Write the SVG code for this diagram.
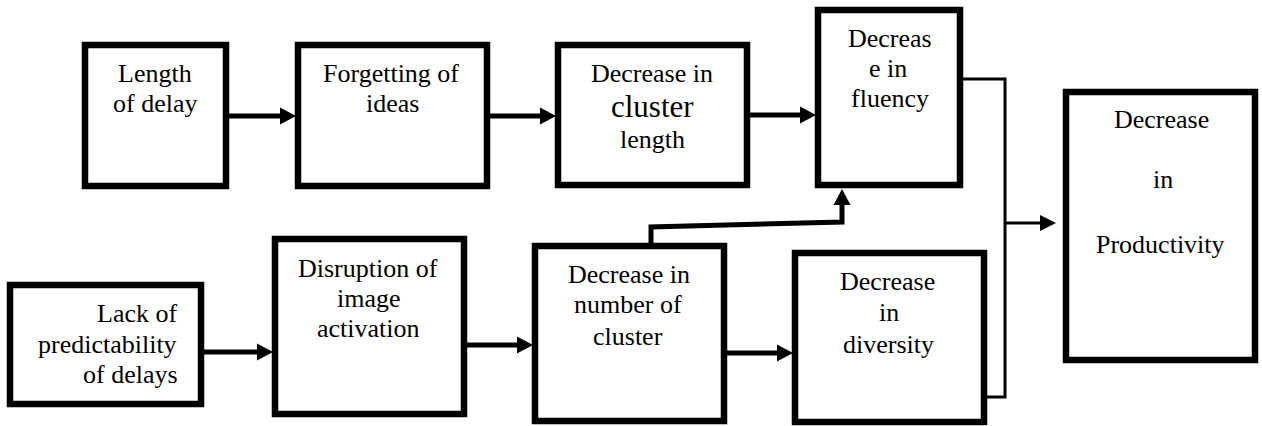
<svg xmlns="http://www.w3.org/2000/svg" width="1262" height="426" viewBox="0 0 1262 426">
  <style>
    .box { fill: #ffffff; stroke: #000000; stroke-width: 6.5; }
    .thick { fill: none; stroke: #000000; stroke-width: 5; }
    .thin { fill: none; stroke: #000000; stroke-width: 3; }
    .head { fill: #000000; }
    .t { font-family: "Liberation Serif", serif; font-size: 26px; fill: #000000; }
  </style>

  <!-- connectors -->
  <g id="connectors">
    <!-- top row -->
    <line class="thick" x1="229" y1="116" x2="282" y2="116"/>
    <polygon class="head" points="280,107.5 296,116 280,124.5"/>
    <line class="thick" x1="490" y1="116" x2="542" y2="116"/>
    <polygon class="head" points="540,107.5 556,116 540,124.5"/>
    <line class="thick" x1="750" y1="115" x2="802" y2="115"/>
    <polygon class="head" points="800,106.5 816,115 800,123.5"/>

    <!-- bottom row -->
    <line class="thick" x1="204" y1="352" x2="259" y2="352"/>
    <polygon class="head" points="257,343.5 273,352 257,360.5"/>
    <line class="thick" x1="467" y1="345" x2="519" y2="345"/>
    <polygon class="head" points="517,336.5 533,345 517,353.5"/>
    <line class="thick" x1="727" y1="353" x2="779" y2="353"/>
    <polygon class="head" points="777,344.5 793,353 777,361.5"/>

    <!-- number of cluster up to fluency -->
    <polyline class="thick" points="651,243 651,227 842,222 842,203"/>
    <polygon class="head" points="833.5,205 842,189 850.5,205"/>

    <!-- merge into productivity -->
    <polyline class="thin" points="963,79 1005,79 1005,397 987,397"/>
    <line class="thin" x1="1005" y1="223" x2="1042" y2="223"/>
    <polygon class="head" points="1040,215 1056,223 1040,231"/>
  </g>

  <g id="length-of-delay">
    <rect class="box" x="85" y="45" width="141" height="141"/>
    <text class="t" x="118" y="82">Length</text>
    <text class="t" x="113" y="112">of delay</text>
  </g>

  <g id="forgetting-of-ideas">
    <rect class="box" x="298" y="45" width="189" height="141"/>
    <text class="t" x="323" y="82">Forgetting of</text>
    <text class="t" x="366" y="112">ideas</text>
  </g>

  <g id="decrease-cluster-length">
    <rect class="box" x="558" y="45" width="189" height="140"/>
    <text class="t" x="591" y="82">Decrease in</text>
    <text class="t" x="611" y="117" style="font-size:31px">cluster</text>
    <text class="t" x="620" y="148">length</text>
  </g>

  <g id="decrease-fluency">
    <rect class="box" x="818" y="10" width="142" height="175"/>
    <text class="t" x="848" y="47">Decreas</text>
    <text class="t" x="869" y="77">e in</text>
    <text class="t" x="851" y="107">fluency</text>
  </g>

  <g id="decrease-productivity">
    <rect class="box" x="1066" y="92" width="189" height="268"/>
    <text class="t" x="1114" y="128">Decrease</text>
    <text class="t" x="1153" y="188">in</text>
    <text class="t" x="1096" y="253">Productivity</text>
  </g>

  <g id="lack-of-predictability">
    <rect class="box" x="10" y="285" width="191" height="119"/>
    <text class="t" x="97" y="322">Lack of</text>
    <text class="t" x="38" y="353">predictability</text>
    <text class="t" x="83" y="383">of delays</text>
  </g>

  <g id="disruption-image-activation">
    <rect class="box" x="275" y="239" width="189" height="175"/>
    <text class="t" x="298" y="277">Disruption of</text>
    <text class="t" x="337" y="307">image</text>
    <text class="t" x="317" y="337">activation</text>
  </g>

  <g id="decrease-number-of-cluster">
    <rect class="box" x="535" y="246" width="189" height="175"/>
    <text class="t" x="568" y="283">Decrease in</text>
    <text class="t" x="574" y="313">number of</text>
    <text class="t" x="593" y="345">cluster</text>
  </g>

  <g id="decrease-diversity">
    <rect class="box" x="795" y="253" width="189" height="169"/>
    <text class="t" x="840" y="290">Decrease</text>
    <text class="t" x="879" y="321">in</text>
    <text class="t" x="843" y="353">diversity</text>
  </g>
</svg>
